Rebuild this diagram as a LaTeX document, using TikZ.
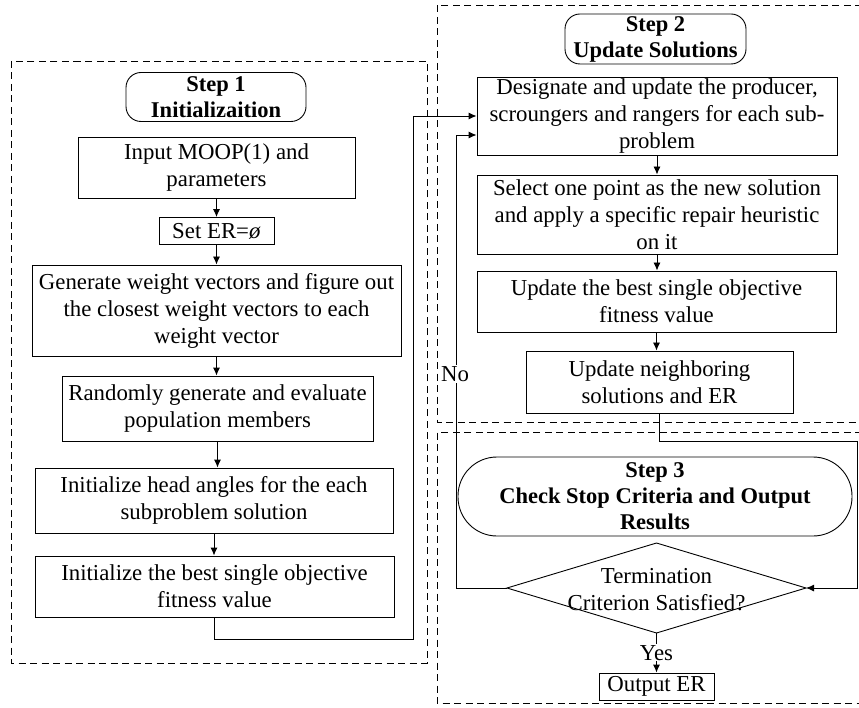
\documentclass[tikz,border=0pt]{standalone}
\usepackage{fontspec}
\setmainfont{Liberation Serif}
\usetikzlibrary{arrows.meta}
\begin{document}
\begin{tikzpicture}[x=1pt,y=-1pt,
  txt/.style={font=\fontsize{22.8}{27}\selectfont, align=center, inner sep=0pt},
  box/.style={txt, draw, line width=0.9pt, rectangle},
  stepbox/.style={box, font=\fontsize{22.5}{26}\selectfont\bfseries, rounded corners=15pt},
  dashbox/.style={line width=0.9pt, dash pattern=on 7pt off 4.5pt},
  arr/.style={line width=0.9pt, -{Latex[length=8pt,width=7pt]}}]
\useasboundingbox (0,0) rectangle (859,708);
% dashed frames
  \draw[dashbox] (11,61) rectangle (427,663);
  \draw[dashbox] (862,5) -| (437,422) -- (862,422);
  \draw[dashbox] (862,432) -| (437,703) -- (862,703);
% step 1
  \node[stepbox, minimum width=180, minimum height=49] (s1) at (216,97) {Step 1\\Initializaition};
  \node[box, minimum width=277, minimum height=61] (inp) at (216.5,168) {Input MOOP(1) and\\parameters};
  \node[box, minimum width=115, minimum height=27] (set) at (216.5,231) {Set ER=\textit{ø}};
  \node[box, minimum width=369, minimum height=91] (gen) at (216.5,310.5) {Generate weight vectors and figure out\\the closest weight vectors to each\\weight vector};
  \node[box, minimum width=311, minimum height=65] (rnd) at (217.5,408.5) {Randomly generate and evaluate\\population members};
  \node[box, minimum width=358, minimum height=65] (head) at (214,500.5) {Initialize head angles for the each\\subproblem solution};
  \node[box, minimum width=359, minimum height=61] (best) at (214.5,586.5) {Initialize the best single objective\\fitness value};
% step 2
  \node[stepbox, minimum width=181, minimum height=50] (s2) at (655.5,39) {Step 2\\Update Solutions};
  \node[box, minimum width=360, minimum height=78] (des) at (657,116) {Designate and update the producer,\\scroungers and rangers for each sub-\\problem};
  \node[box, minimum width=360, minimum height=79] (sel) at (657,214.5) {Select one point as the new solution\\and apply a specific repair heuristic\\on it};
  \node[box, minimum width=359, minimum height=61] (upb) at (656.5,301.5) {Update the best single objective\\fitness value};
  \node[box, minimum width=267, minimum height=62] (nb) at (659.5,382) {Update neighboring\\solutions and ER};
% step 3
  \node[stepbox, rounded corners=39pt, minimum width=394, minimum height=79] (s3) at (655,496.5) {Step 3\\Check Stop Criteria and Output\\Results};
  \node[txt] (dia) at (656.5,590) {Termination\\Criterion Satisfied?};
  \path (656.5,588) +(-149.5,0) coordinate (dW) +(149.5,0) coordinate (dE)
        +(0,-45) coordinate (dN) +(0,45) coordinate (dS);
  \draw[line width=0.9pt] (dW) -- (dN) -- (dE) -- (dS) -- cycle;
  \node[box, minimum width=115, minimum height=27] (out) at (656.5,686.5) {Output ER};
% connectors
  \foreach \a/\b in {inp/set,set/gen,gen/rnd,rnd/head,head/best,des/sel,sel/upb,upb/nb}
    \draw[arr] (\a.south) -- (\a.south |- \b.north);
  \coordinate (j1) at (413,116);
  \coordinate (j2) at (456,135);
  \coordinate (j3) at (857.5,441);
  \draw[arr] (best.south) -- ++(0,22) -| (j1) -- (des.west);
  \draw[arr] (dW) -| (j2) -- (des.west |- j2);
  \node[txt, fill=white, inner sep=1pt] (no) at (455,374) {No};
  \draw[arr] (nb.south) |- (j3) |- (dE);
  \draw[arr] (dS) -- node[txt, fill=white, inner sep=1pt] (yes) {Yes} (out.north);
\end{tikzpicture}
\end{document}
